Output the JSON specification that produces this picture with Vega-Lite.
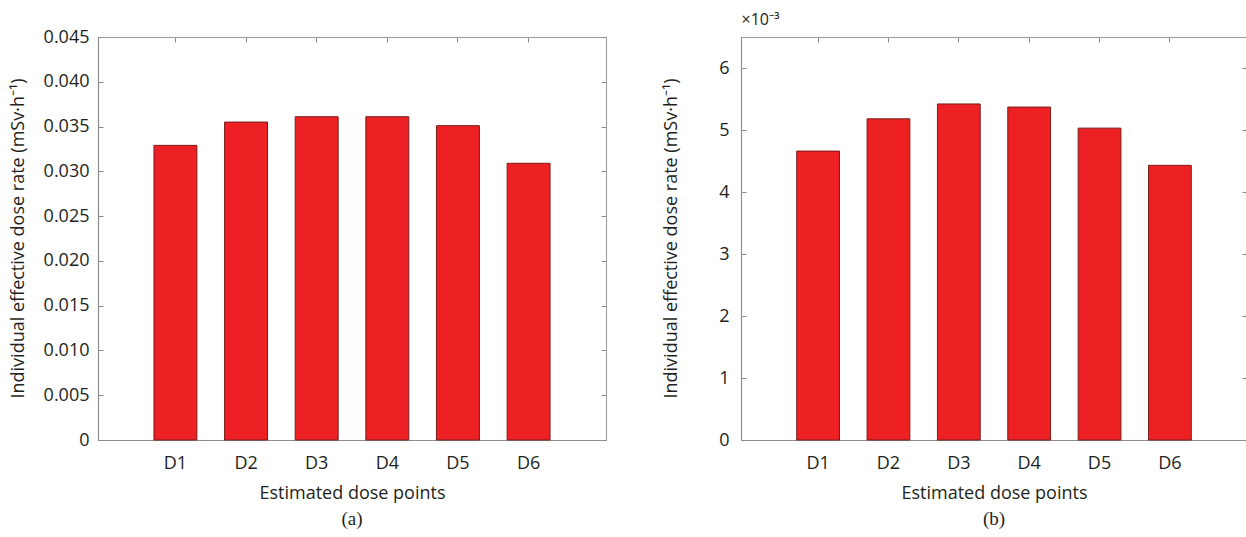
{
  "$schema": "https://vega.github.io/schema/vega-lite/v6.json",
  "padding": {"left": 8, "top": 10, "right": 0, "bottom": 0},
  "background": "white",
  "datasets": {
    "a": [
      {"point": "D1", "rate": 0.0329},
      {"point": "D2", "rate": 0.0355},
      {"point": "D3", "rate": 0.0361},
      {"point": "D4", "rate": 0.0361},
      {"point": "D5", "rate": 0.0351},
      {"point": "D6", "rate": 0.0309}
    ],
    "b": [
      {"point": "D1", "rate": 0.00466},
      {"point": "D2", "rate": 0.00518},
      {"point": "D3", "rate": 0.00542},
      {"point": "D4", "rate": 0.00537},
      {"point": "D5", "rate": 0.00503},
      {"point": "D6", "rate": 0.00443}
    ]
  },
  "config": {
    "font": "Open Sans",
    "view": {"stroke": "#999999", "strokeWidth": 1},
    "axis": {
      "labelFont": "Open Sans",
      "titleFont": "Open Sans",
      "labelFontSize": 18,
      "titleFontSize": 18,
      "titleFontWeight": "normal",
      "labelColor": "#231f20",
      "titleColor": "#231f20",
      "domainColor": "#8c8c8c",
      "domainWidth": 1.2,
      "tickColor": "#8c8c8c",
      "tickSize": -5,
      "grid": false
    }
  },
  "hconcat": [
    {
      "width": 508,
      "height": 403,
      "data": {"name": "a"},
      "title": {"text": "(a)", "orient": "bottom", "font": "Liberation Serif", "fontSize": 19, "fontWeight": "normal", "color": "#231f20", "offset": 8},
      "layer": [
        {
          "mark": {"type": "bar", "fill": "#ED2024", "stroke": "#7a1c1c", "strokeWidth": 1},
          "encoding": {
            "x": {"field": "point", "type": "nominal", "sort": null,
              "scale": {"paddingInner": 0.392, "paddingOuter": 0.792},
              "axis": {"orient": "bottom", "title": "Estimated dose points", "labelAngle": 0, "labelPadding": 19, "titleY": 53, "titleBaseline": "middle"}},
            "y": {"field": "rate", "type": "quantitative",
              "scale": {"domain": [0, 0.045], "nice": false, "zero": true},
              "axis": {"orient": "left", "title": "Individual effective dose rate (mSv·h⁻¹)", "values": [0, 0.005, 0.01, 0.015, 0.02, 0.025, 0.03, 0.035, 0.04, 0.045],
                "labelExpr": "datum.value == 0 ? '0' : format(datum.value, '.3f')", "labelPadding": 14, "titleX": -80, "titleY": 201, "titleBaseline": "middle", "titleAnchor": "middle"}}
          }
        },
        {
          "mark": {"type": "bar", "opacity": 0},
          "encoding": {
            "x": {"field": "point", "type": "nominal", "sort": null,
              "axis": {"orient": "top", "labels": false, "domain": false, "title": "×10⁻³", "titleOpacity": 0, "titleFontSize": 16, "titleX": 0, "titleY": -10, "titleAlign": "left", "titleAnchor": "start", "titleBaseline": "bottom"}},
            "y": {"field": "rate", "type": "quantitative",
              "axis": {"orient": "right", "labels": false, "domain": false, "title": null, "values": [0, 0.005, 0.01, 0.015, 0.02, 0.025, 0.03, 0.035, 0.04, 0.045]}}
          }
        }
      ],
      "resolve": {"axis": {"x": "independent", "y": "independent"}}
    },
    {
      "width": 506,
      "height": 403,
      "data": {"name": "b"},
      "title": {"text": "(b)", "orient": "bottom", "font": "Liberation Serif", "fontSize": 19, "fontWeight": "normal", "color": "#231f20", "offset": 8},
      "layer": [
        {
          "mark": {"type": "bar", "fill": "#ED2024", "stroke": "#7a1c1c", "strokeWidth": 1},
          "encoding": {
            "x": {"field": "point", "type": "nominal", "sort": null,
              "scale": {"paddingInner": 0.392, "paddingOuter": 0.792},
              "axis": {"orient": "bottom", "title": "Estimated dose points", "labelAngle": 0, "labelPadding": 19, "titleY": 53, "titleBaseline": "middle"}},
            "y": {"field": "rate", "type": "quantitative",
              "scale": {"domain": [0, 0.0065], "nice": false, "zero": true},
              "axis": {"orient": "left", "title": "Individual effective dose rate (mSv·h⁻¹)", "values": [0, 0.001, 0.002, 0.003, 0.004, 0.005, 0.006],
                "labelExpr": "format(datum.value * 1000, '.0f')", "labelPadding": 17, "titleX": -70, "titleY": 201, "titleBaseline": "middle", "titleAnchor": "middle"}}
          }
        },
        {
          "mark": {"type": "bar", "opacity": 0},
          "encoding": {
            "x": {"field": "point", "type": "nominal", "sort": null,
              "axis": {"orient": "top", "labels": false, "domain": false, "title": "×10⁻³", "titleFontSize": 16, "titleX": 0, "titleY": -10, "titleAlign": "left", "titleAnchor": "start", "titleBaseline": "bottom"}},
            "y": {"field": "rate", "type": "quantitative",
              "axis": {"orient": "right", "labels": false, "domain": false, "title": null, "values": [0, 0.001, 0.002, 0.003, 0.004, 0.005, 0.006]}}
          }
        }
      ],
      "resolve": {"axis": {"x": "independent", "y": "independent"}}
    }
  ],
  "spacing": 54
}
